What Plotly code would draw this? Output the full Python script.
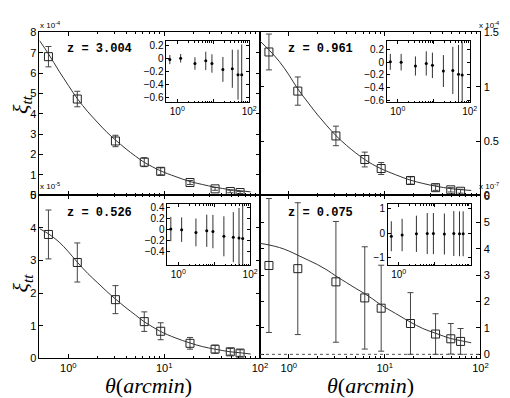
import math
import plotly.graph_objects as go

W, H = 510, 398

# ---------------- data ----------------
theta = [0.62, 1.24, 3.1, 6.2, 9.2, 18.6, 34, 49, 62]
curve_theta = [0.5, 0.62, 0.8, 1.0, 1.24, 1.6, 2.0, 2.5, 3.1, 4.0, 5.0, 6.2,
               7.5, 9.2, 13, 18.6, 25, 34, 49, 62, 80]

redshift_labels = ["z = 3.004", "z = 0.961", "z = 0.526", "z = 0.075"]
exponent_labels = ["x 10<sup>-4</sup>", "x 10<sup>-4</sup>", "x 10<sup>-5</sup>", "x 10<sup>-7</sup>"]

# xi_tt measurements (in units of the panel multiplier)
xi_z3004 = [6.81, 4.73, 2.67, 1.63, 1.18, 0.63, 0.32, 0.19, 0.14]
err_z3004 = [0.5, 0.38, 0.28, 0.22, 0.17, 0.1, 0.07, 0.06, 0.05]
model_z3004 = [7.6, 6.95, 6.1, 5.4, 4.75, 4.1, 3.6, 3.12, 2.72, 2.28, 1.93, 1.62,
               1.41, 1.2, 0.93, 0.68, 0.535, 0.4, 0.28, 0.23, 0.17]

xi_z0961 = [1.32, 0.96, 0.547, 0.33, 0.247, 0.137, 0.071, 0.051, 0.038]
err_z0961 = [0.165, 0.13, 0.09, 0.068, 0.055, 0.033, 0.025, 0.02, 0.018]
model_z0961 = [1.42, 1.34, 1.23, 1.11, 0.98, 0.85, 0.74, 0.64, 0.55, 0.46, 0.39, 0.33,
               0.285, 0.245, 0.19, 0.14, 0.11, 0.085, 0.062, 0.053, 0.045]

xi_z0526 = [3.80, 2.94, 1.80, 1.125, 0.83, 0.46, 0.28, 0.2, 0.16]
err_z0526 = [0.75, 0.6, 0.43, 0.3, 0.26, 0.18, 0.12, 0.1, 0.1]
model_z0526 = [3.98, 3.82, 3.57, 3.27, 2.95, 2.6, 2.33, 2.06, 1.82, 1.55, 1.33, 1.12,
               0.97, 0.82, 0.63, 0.47, 0.36, 0.28, 0.2, 0.17, 0.13]

xi_z0075 = [3.37, 3.25, 2.75, 2.14, 1.75, 1.17, 0.77, 0.59, 0.49]
err_z0075 = [2.54, 2.5, 2.29, 1.94, 1.63, 1.17, 0.77, 0.58, 0.49]
model_z0075 = [4.21, 4.15, 4.05, 3.92, 3.76, 3.57, 3.4, 3.2, 2.97, 2.72, 2.5, 2.3,
               2.1, 1.87, 1.55, 1.22, 0.98, 0.8, 0.6, 0.52, 0.44]

# inset residuals
res_z3004 = [-0.02, 0.0, -0.08, -0.04, -0.08, -0.17, -0.16, -0.25, -0.25]
reserr_z3004 = [0.07, 0.065, 0.095, 0.14, 0.14, 0.19, 0.29, 0.38, 0.46]
res_z0961 = [0.005, 0.0, -0.06, -0.02, -0.05, -0.14, -0.13, -0.19, -0.2]
reserr_z0961 = [0.125, 0.13, 0.15, 0.19, 0.2, 0.25, 0.37, 0.46, 0.53]
res_z0526 = [0.01, 0.0, -0.05, -0.02, -0.035, -0.12, -0.135, -0.15, -0.16]
reserr_z0526 = [0.22, 0.22, 0.25, 0.29, 0.3, 0.36, 0.45, 0.54, 0.62]
res_z0075 = [-0.13, -0.08, -0.03, -0.02, -0.02, -0.04, -0.02, -0.03, -0.03]
reserr_z0075 = [0.62, 0.67, 0.75, 0.85, 0.85, 0.85, 0.93, 0.93, 0.93]

main_yranges = [[0, 8], [0, 1.5], [0, 5], [-0.15, 6.03]]
main_yticks = [[0, 1, 2, 3, 4, 5, 6, 7, 8], [0, 0.5, 1, 1.5], [0, 1, 2, 3, 4, 5], [0, 1, 2, 3, 4, 5, 6]]
main_yticktext = [["0", "1", "2", "3", "4", "5", "6", "7", "8"], ["0", "0.5", "1", "1.5"],
                  ["0", "1", "2", "3", "4", "5"], ["0", "1", "2", "3", "4", "5", "6"]]
inset_yranges = [[-0.67, 0.26], [-0.63, 0.33], [-0.64, 0.46], [-1.33, 1.2]]
inset_yticks = [[-0.6, -0.4, -0.2, 0, 0.2], [-0.6, -0.4, -0.2, 0, 0.2],
                [-0.4, -0.2, 0, 0.2, 0.4], [-1, 0, 1]]
inset_yticktext = [["\u22120.6", "\u22120.4", "\u22120.2", "0", "0.2"],
                   ["\u22120.6", "\u22120.4", "\u22120.2", "0", "0.2"],
                   ["\u22120.4", "\u22120.2", "0", "0.2", "0.4"],
                   ["\u22121", "0", "1"]]
x_tickvals = [1, 10, 100]
x_ticktext = ["10<sup>0</sup>", "10<sup>1</sup>", "10<sup>2</sup>"]
inset_xticktext = [["10<sup>0</sup>", "", "10<sup>2</sup>"], ["10<sup>0</sup>", "", "10<sup>2</sup>"],
                   ["10<sup>0</sup>", "", "10<sup>2</sup>"], ["10<sup>0</sup>", "", ""]]
minor_vals = [2, 3, 4, 5, 6, 7, 8, 9, 20, 30, 40, 50, 60, 70, 80, 90]

xis = [xi_z3004, xi_z0961, xi_z0526, xi_z0075]
errs = [err_z3004, err_z0961, err_z0526, err_z0075]
models = [model_z3004, model_z0961, model_z0526, model_z0075]
ress = [res_z3004, res_z0961, res_z0526, res_z0075]
reserrs = [reserr_z3004, reserr_z0961, reserr_z0526, reserr_z0075]

# ---------------- layout geometry (pixels) ----------------
main_boxes = [(32, 256, 19, 187), (256, 480, 19, 187), (32, 256, 187, 355), (256, 480, 187, 355)]
inset_boxes = [(161, 245, 28, 91), (385, 469, 28, 91), (162, 246, 196, 259), (386, 470, 196, 259)]


def xd(a, b):
    return [a / W, b / W]


def yd(top, bottom):
    return [1 - bottom / H, 1 - top / H]


fig = go.Figure()
XR = [math.log10(0.5), 2]
tickfont = dict(family="Liberation Sans, Arial, sans-serif", size=11, color="black")
insfont = dict(family="Liberation Sans, Arial, sans-serif", size=10, color="black")

for i in range(4):
    n = i + 1
    xa = "x" if n == 1 else f"x{n}"
    ya = "y" if n == 1 else f"y{n}"
    fig.add_trace(go.Scatter(
        x=theta, y=xis[i], mode="markers", xaxis=xa, yaxis=ya,
        marker=dict(symbol="square-open", size=8, color="#222", line=dict(width=1, color="#222")),
        error_y=dict(type="data", array=errs[i], visible=True, color="#444", thickness=1, width=3),
        showlegend=False))
    fig.add_trace(go.Scatter(
        x=curve_theta, y=models[i], mode="lines", xaxis=xa, yaxis=ya,
        line=dict(color="#333", width=1, shape="spline"), showlegend=False))

    x0, x1, t, b = main_boxes[i]
    right_side = (i % 2 == 1)
    bottom_row = (i >= 2)
    fig.layout[f"xaxis{'' if n == 1 else n}"] = dict(
        type="log", range=XR, domain=xd(x0, x1), anchor=ya,
        showline=True, linecolor="black", linewidth=1, mirror="ticks",
        ticks="inside", ticklen=4, tickcolor="black",
        tickvals=x_tickvals, ticktext=x_ticktext, showticklabels=bottom_row,
        tickfont=tickfont, showgrid=False, zeroline=False,
        minor=dict(tickvals=minor_vals, ticks="inside", ticklen=2, tickcolor="black"))
    fig.layout[f"yaxis{'' if n == 1 else n}"] = dict(
        range=main_yranges[i], domain=yd(t, b), anchor=xa,
        side="right" if right_side else "left",
        showline=True, linecolor="black", linewidth=1, mirror="ticks",
        ticks="inside", ticklen=4, tickcolor="black",
        tickvals=main_yticks[i], ticktext=main_yticktext[i],
        tickfont=tickfont, showgrid=False, zeroline=False)

# insets
for i in range(4):
    n = i + 5
    xa, ya = f"x{n}", f"y{n}"
    fig.add_trace(go.Scatter(
        x=theta, y=ress[i], mode="markers", xaxis=xa, yaxis=ya,
        marker=dict(symbol="circle", size=3, color="black"),
        error_y=dict(type="data", array=reserrs[i], visible=True, color="#333", thickness=1, width=0),
        showlegend=False))
    x0, x1, t, b = inset_boxes[i]
    fig.layout[f"xaxis{n}"] = dict(
        type="log", range=XR, domain=xd(x0, x1), anchor=ya,
        showline=True, linecolor="black", linewidth=1, mirror="ticks",
        ticks="inside", ticklen=3, tickcolor="black",
        tickvals=x_tickvals, ticktext=inset_xticktext[i],
        tickfont=insfont, showgrid=False, zeroline=False,
        minor=dict(tickvals=minor_vals, ticks="inside", ticklen=1.5, tickcolor="black"))
    fig.layout[f"yaxis{n}"] = dict(
        range=inset_yranges[i], domain=yd(t, b), anchor=xa,
        showline=True, linecolor="black", linewidth=1, mirror="ticks",
        ticks="inside", ticklen=3, tickcolor="black",
        tickvals=inset_yticks[i], ticktext=inset_yticktext[i],
        tickfont=insfont, showgrid=False, zeroline=False)

# zero reference line in the z=0.075 panel
fig.add_shape(type="line", xref="x4 domain", yref="y4", x0=0, x1=1, y0=0, y1=0,
              line=dict(color="#555", width=1, dash="dot"))

annotations = []
z_pos = [(93, 36), (317, 36), (93, 205), (317, 205)]
for i, (px, py) in enumerate(z_pos):
    annotations.append(dict(x=px / W, y=1 - py / H, xref="paper", yref="paper",
                            xanchor="center", yanchor="middle",
                            text=f"<b>{redshift_labels[i]}</b>", showarrow=False,
                            font=dict(family="Liberation Mono, Courier New, monospace", size=12, color="black")))
exp_pos = [(32, 11, "left"), (500, 11, "right"), (32, 177, "left"), (500, 177, "right")]
for i, (px, py, al) in enumerate(exp_pos):
    annotations.append(dict(x=px / W, y=1 - py / H, xref="paper", yref="paper",
                            text=exponent_labels[i], showarrow=False, xanchor=al, yanchor="middle",
                            borderpad=0,
                            font=dict(family="Liberation Sans, Arial, sans-serif", size=8, color="black")))
for py in (93, 277):
    annotations.append(dict(x=14 / W, y=1 - py / H, xref="paper", yref="paper",
                            xanchor="center", yanchor="middle",
                            text="<i>ξ</i><sub><i>tt</i></sub>", showarrow=False, textangle=-90,
                            font=dict(family="Liberation Serif, serif", size=22, color="black")))
for px in (143, 368):
    annotations.append(dict(x=px / W, y=1 - 383 / H, xref="paper", yref="paper",
                            xanchor="center", yanchor="middle",
                            text="<i>θ</i>(<i>arcmin</i>)", showarrow=False,
                            font=dict(family="Liberation Serif, serif", size=22, color="black")))

fig.update_layout(width=W, height=H, margin=dict(l=0, r=0, t=0, b=0),
                  paper_bgcolor="white", plot_bgcolor="white",
                  annotations=annotations, showlegend=False)

fig.write_html("out.html")
